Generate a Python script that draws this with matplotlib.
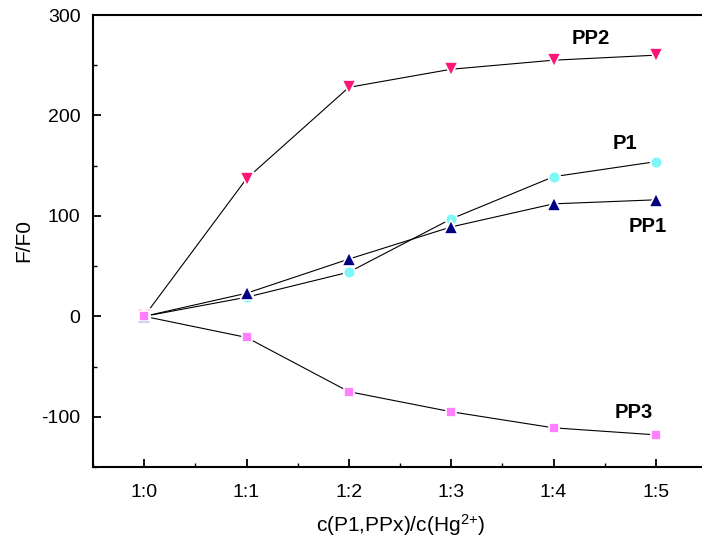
import matplotlib
matplotlib.use("Agg")
import matplotlib.pyplot as plt
from matplotlib.ticker import MultipleLocator

plt.rcParams['font.family'] = ['Liberation Sans', 'DejaVu Sans']
plt.rcParams['mathtext.default'] = 'regular'
plt.rcParams['axes.unicode_minus'] = False

ratios = ["1:0", "1:1", "1:2", "1:3", "1:4", "1:5"]
pp2 = [0, 137, 228, 246, 255, 260]
p1 = [0, 19, 44, 97, 139, 154]
pp1 = [0, 23, 57, 89, 112, 116]
pp3 = [0, -21, -75, -95, -111, -118]

series = [
    ("PP2", pp2, "v", "#ff1477", 10),
    ("P1", p1, "o", "#80f7f7", 8.5),
    ("PP1", pp1, "^", "#000080", 10),
    ("PP3", pp3, "s", "#ff80ff", 7.5),
]

fig = plt.figure(figsize=(7.02, 5.37), dpi=100)
ax = fig.add_axes([93 / 702, 70 / 537, 614 / 702, 452 / 537])

x = list(range(len(ratios)))
for name, vals, mk, col, ms in series:
    ax.plot(x, vals, color="black", lw=0.8, zorder=2)
for name, vals, mk, col, ms in series:
    ax.plot(x, vals, ls="none", marker=mk, ms=ms, mfc=col, mec="white",
            mew=1.2, zorder=3)

ax.set_xlim(-0.5, 5.5)
ax.set_ylim(-150, 300)
ax.set_xticks(x)
ax.set_xticklabels(ratios)
ax.xaxis.set_minor_locator(MultipleLocator(0.5))
ax.yaxis.set_major_locator(MultipleLocator(100))
ax.yaxis.set_minor_locator(MultipleLocator(50))
ax.tick_params(which="major", direction="in", length=6, width=1.3,
               labelsize=14)
ax.tick_params(axis="x", which="major", pad=12)
ax.tick_params(axis="y", which="major", pad=9)
ax.tick_params(which="minor", direction="in", length=3, width=1.0)
ax.tick_params(axis="y", which="both", left=True, right=False)
ax.tick_params(axis="x", which="both", bottom=True, top=False)
for side in ["left", "bottom", "top"]:
    ax.spines[side].set_linewidth(1.5)
ax.spines["right"].set_visible(False)

ax.set_ylabel("F/F0", fontsize=15, labelpad=6)
ax.set_xlabel("c(P1,PPx)/c(Hg$^{2{+}}$)", fontsize=15, labelpad=8)

labels = [("PP2", 4.36, 277), ("P1", 4.7, 172), ("PP1", 4.92, 89), ("PP3", 4.78, -96)]
for txt, lx, ly in labels:
    ax.text(lx, ly, txt, fontsize=14.5, fontweight="bold", ha="center", va="center")

fig.savefig("out.png", dpi=100)
